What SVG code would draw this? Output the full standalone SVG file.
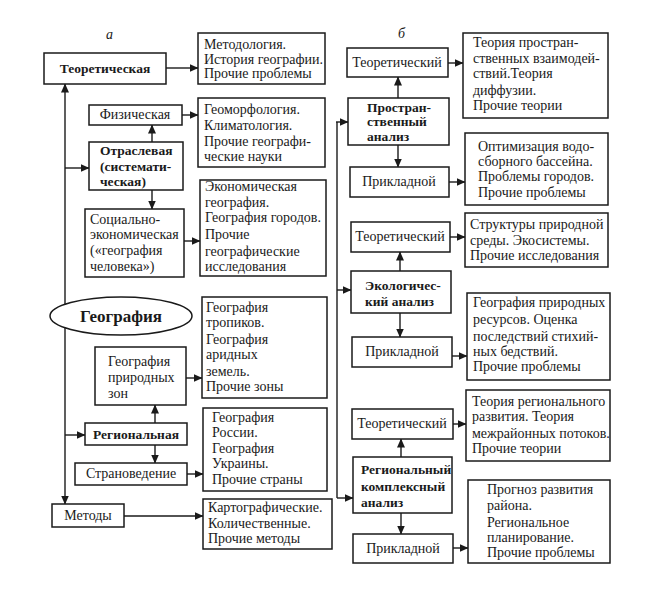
<svg xmlns="http://www.w3.org/2000/svg" width="648" height="592" viewBox="0 0 648 592">
<defs>
<marker id="ah" markerWidth="9" markerHeight="8" refX="8.5" refY="4" orient="auto-start-reverse" markerUnits="userSpaceOnUse">
<path d="M0,0 L9,4 L0,8 Z" fill="#1a1a1a"/>
</marker>
<style>
rect.b{fill:#fff;stroke:#1a1a1a;stroke-width:1.5}
text{font-family:"Liberation Serif","Times New Roman",serif;font-size:14px;fill:#1a1a1a}
text.bd{font-weight:bold;font-size:13.5px}
text.c{text-anchor:middle}
text.it{font-style:italic;font-size:14px}
.cn line,.cn path{stroke:#1a1a1a;stroke-width:1.4;fill:none}
</style>
</defs>
<rect x="0" y="0" width="648" height="592" fill="#fff"/>
<text class="it" x="106" y="39">а</text>
<text class="it" x="398" y="38">б</text>

<g id="connectors" class="cn">
<path d="M65,300 V84" marker-end="url(#ah)"/>
<path d="M65,300 V504" marker-end="url(#ah)"/>
<line x1="65" y1="168" x2="89" y2="168" marker-end="url(#ah)"/>
<line x1="65" y1="435" x2="85" y2="435" marker-end="url(#ah)"/>
<line x1="166" y1="68" x2="198" y2="68" marker-end="url(#ah)"/>
<line x1="182" y1="115" x2="198" y2="115" marker-end="url(#ah)"/>
<line x1="152" y1="142" x2="152" y2="125" marker-end="url(#ah)"/>
<line x1="152" y1="190" x2="152" y2="209" marker-end="url(#ah)"/>
<line x1="184" y1="241" x2="200" y2="241" marker-end="url(#ah)"/>
<line x1="186" y1="378" x2="202" y2="378" marker-end="url(#ah)"/>
<line x1="155" y1="423" x2="155" y2="405" marker-end="url(#ah)"/>
<line x1="155" y1="445" x2="155" y2="463" marker-end="url(#ah)"/>
<line x1="187" y1="474" x2="203" y2="474" marker-end="url(#ah)"/>
<line x1="124" y1="516" x2="203" y2="516" marker-end="url(#ah)"/>
<path d="M337,122 V498"/>
<line x1="336" y1="122" x2="348" y2="122" marker-end="url(#ah)"/>
<line x1="337" y1="290" x2="351" y2="290" marker-end="url(#ah)"/>
<line x1="337" y1="498" x2="353" y2="498" marker-end="url(#ah)"/>
<line x1="448" y1="63" x2="463" y2="63" marker-end="url(#ah)"/>
<line x1="398" y1="98" x2="398" y2="77" marker-end="url(#ah)"/>
<line x1="398" y1="145" x2="398" y2="167" marker-end="url(#ah)"/>
<line x1="449" y1="182" x2="465" y2="182" marker-end="url(#ah)"/>
<line x1="450" y1="237" x2="465" y2="237" marker-end="url(#ah)"/>
<line x1="400" y1="271" x2="400" y2="252" marker-end="url(#ah)"/>
<line x1="400" y1="313" x2="400" y2="337" marker-end="url(#ah)"/>
<line x1="452" y1="356" x2="467" y2="356" marker-end="url(#ah)"/>
<line x1="453" y1="424" x2="466" y2="424" marker-end="url(#ah)"/>
<line x1="401" y1="457" x2="401" y2="439" marker-end="url(#ah)"/>
<line x1="401" y1="513" x2="401" y2="534" marker-end="url(#ah)"/>
<line x1="453" y1="548" x2="468" y2="548" marker-end="url(#ah)"/>
</g>

<g id="teor"><rect class="b" x="44" y="53" width="122" height="31"/><text class="bd c" x="105" y="73">Теоретическая</text></g>
<g id="metodologia"><rect class="b" x="198" y="33" width="127" height="51"/>
<text x="204" y="49">Методология.</text><text x="204" y="64">История географии.</text><text x="204" y="78">Прочие проблемы</text></g>
<g id="fiz"><rect class="b" x="89" y="105" width="93" height="20"/><text class="c" x="135" y="119">Физическая</text></g>
<g id="geomorf"><rect class="b" x="198" y="98" width="127" height="69"/>
<text x="204" y="114">Геоморфология.</text><text x="204" y="130">Климатология.</text><text x="204" y="146">Прочие географи-</text><text x="204" y="161">ческие науки</text></g>
<g id="otrasl"><rect class="b" x="89" y="142" width="94" height="48"/>
<text class="bd" x="100" y="155">Отраслевая</text><text class="bd" x="100" y="171">(системати-</text><text class="bd" x="100" y="186">ческая)</text></g>
<g id="soc"><rect class="b" x="85" y="209" width="99" height="68"/>
<text x="90" y="224">Социально-</text><text x="90" y="239">экономическая</text><text x="90" y="255">(«география</text><text x="90" y="271">человека»)</text></g>
<g id="ekon"><rect class="b" x="200" y="180" width="126" height="96"/>
<text x="205" y="191">Экономическая</text><text x="205" y="207">география.</text><text x="205" y="222">География городов.</text><text x="205" y="239">Прочие</text><text x="205" y="256">географические</text><text x="205" y="271">исследования</text></g>
<g id="geografia"><ellipse cx="121" cy="316" rx="71" ry="19" fill="#fff" stroke="#1a1a1a" stroke-width="1.5"/><text class="bd c" x="121" y="322" style="font-size:17px">География</text></g>
<g id="tropiki"><rect class="b" x="202" y="297" width="125" height="101"/>
<text x="206" y="312">География</text><text x="206" y="327">тропиков.</text><text x="206" y="344">География</text><text x="206" y="359">аридных</text><text x="206" y="376">земель.</text><text x="206" y="391">Прочие зоны</text></g>
<g id="zony"><rect class="b" x="95" y="347" width="91" height="58"/>
<text x="108" y="366">География</text><text x="108" y="382">природных</text><text x="108" y="398">зон</text></g>
<g id="region"><rect class="b" x="85" y="423" width="102" height="22"/><text class="bd c" x="136" y="439">Региональная</text></g>
<g id="stranoved"><rect class="b" x="75" y="463" width="112" height="22"/><text class="c" x="131" y="478">Страноведение</text></g>
<g id="rossia"><rect class="b" x="203" y="408" width="124" height="83"/>
<text x="212" y="422">География</text><text x="212" y="437">России.</text><text x="212" y="453">География</text><text x="212" y="468">Украины.</text><text x="212" y="484">Прочие страны</text></g>
<g id="metody"><rect class="b" x="52" y="504" width="72" height="23"/><text class="c" x="88" y="520">Методы</text></g>
<g id="kartogr"><rect class="b" x="203" y="499" width="129" height="50"/>
<text x="208" y="512">Картографические.</text><text x="208" y="528">Количественные.</text><text x="208" y="543">Прочие методы</text></g>

<g id="teor1"><rect class="b" x="347" y="48" width="101" height="29"/><text class="c" x="397" y="67">Теоретический</text></g>
<g id="teoria1"><rect class="b" x="463" y="33" width="145" height="85"/>
<text x="473" y="47">Теория простран-</text><text x="473" y="63">ственных взаимодей-</text><text x="473" y="78">ствий.Теория</text><text x="473" y="95">диффузии.</text><text x="473" y="110">Прочие теории</text></g>
<g id="prostr"><rect class="b" x="348" y="98" width="101" height="47"/>
<text class="bd" x="367" y="112">Простран-</text><text class="bd" x="367" y="126">ственный</text><text class="bd" x="367" y="141">анализ</text></g>
<g id="prikl1"><rect class="b" x="350" y="167" width="99" height="30"/><text class="c" x="399" y="186">Прикладной</text></g>
<g id="optim"><rect class="b" x="465" y="133" width="143" height="72"/>
<text x="478" y="151">Оптимизация водо-</text><text x="478" y="166">сборного бассейна.</text><text x="478" y="181">Проблемы городов.</text><text x="478" y="197">Прочие проблемы</text></g>
<g id="teor2"><rect class="b" x="351" y="222" width="99" height="30"/><text class="c" x="400" y="241">Теоретический</text></g>
<g id="struktury"><rect class="b" x="465" y="213" width="143" height="54"/>
<text x="470" y="229">Структуры природной</text><text x="470" y="245">среды. Экосистемы.</text><text x="470" y="260">Прочие исследования</text></g>
<g id="ekol"><rect class="b" x="351" y="271" width="100" height="42"/>
<text class="bd" x="365" y="290">Экологичес-</text><text class="bd" x="365" y="306">кий анализ</text></g>
<g id="prikl2"><rect class="b" x="352" y="337" width="100" height="30"/><text class="c" x="402" y="356">Прикладной</text></g>
<g id="resursy"><rect class="b" x="467" y="293" width="143" height="87"/>
<text x="473" y="307">География природных</text><text x="473" y="324">ресурсов. Оценка</text><text x="473" y="341">последствий стихий-</text><text x="473" y="356">ных бедствий.</text><text x="473" y="371">Прочие проблемы</text></g>
<g id="teor3"><rect class="b" x="352" y="409" width="101" height="30"/><text class="c" x="402" y="428">Теоретический</text></g>
<g id="teoria3"><rect class="b" x="466" y="390" width="144" height="71"/>
<text x="472" y="406">Теория регионального</text><text x="472" y="421">развития. Теория</text><text x="472" y="438">межрайонных потоков.</text><text x="472" y="453">Прочие теории</text></g>
<g id="regkompl"><rect class="b" x="353" y="457" width="99" height="56"/>
<text class="bd" x="361" y="474">Региональный</text><text class="bd" x="361" y="491">комплексный</text><text class="bd" x="361" y="507">анализ</text></g>
<g id="prikl3"><rect class="b" x="353" y="534" width="100" height="29"/><text class="c" x="403" y="553">Прикладной</text></g>
<g id="prognoz"><rect class="b" x="468" y="480" width="142" height="83"/>
<text x="487" y="494">Прогноз развития</text><text x="487" y="510">района.</text><text x="487" y="527">Региональное</text><text x="487" y="542">планирование.</text><text x="487" y="557">Прочие проблемы</text></g>
</svg>
